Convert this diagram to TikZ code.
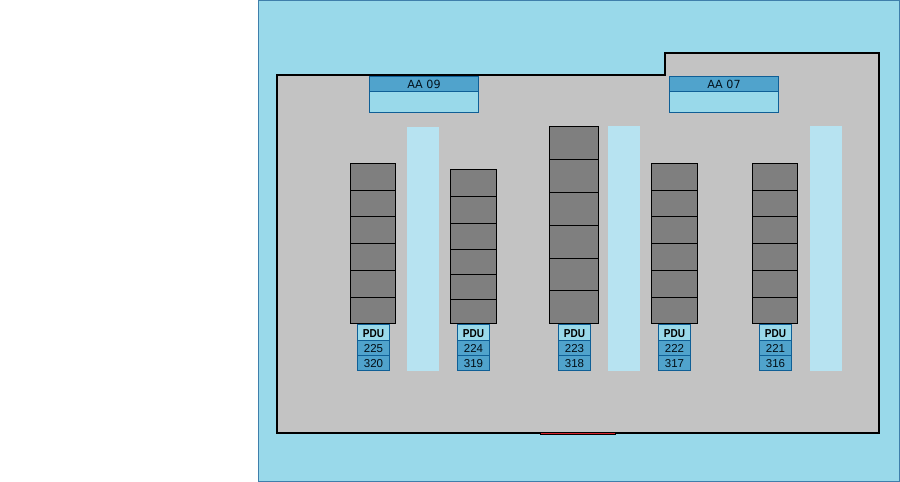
\documentclass[tikz,border=0pt]{standalone}
\usepackage{fontspec}
\setmainfont{Liberation Sans}
\newfontfamily\aafont{DejaVu Sans}
\newfontfamily\pdufont[FakeStretch=0.87]{Liberation Sans}
\definecolor{floorblue}{HTML}{99D9EA}
\definecolor{edgeblue}{HTML}{0F5F96}
\definecolor{headblue}{HTML}{50A3CC}
\definecolor{aisleblue}{HTML}{B7E3F1}
\definecolor{roomgrey}{HTML}{C3C3C3}
\definecolor{rackgrey}{HTML}{7F7F7F}
\definecolor{doorred}{HTML}{D8242A}
\tikzset{
  cell/.style={inner sep=0pt, outer sep=0pt, anchor=north west},
  rackcell/.style={cell, fill=rackgrey, draw=black, line width=1pt},
  pducell/.style={cell, draw=edgeblue, line width=1pt, text=black!85!edgeblue, text height=8.8pt, text depth=0pt,
    font=\fontsize{11.5}{11.5}\selectfont},
  aisle/.style={cell, fill=aisleblue},
}
\newcommand*{\RackCells}[4]{% #1 = name, #2 = left, #3 = width, #4 = list of index/top/height
  \foreach \i/\y/\h in {#4} {
    \node [rackcell, minimum width=#3pt, minimum height=\h pt]
      (#1-\i) at (#2,\y) {};
    }%
}
\newcommand*{\PduCells}[4]{% #1 = name, #2 = left, #3/#4 = labels
  \node [pducell, fill=floorblue, minimum width=32pt, minimum height=16pt, text height=9.5pt,
    font=\pdufont\bfseries\fontsize{11.5}{11.5}\selectfont, text=black]
    (#1-pdu) at (#2,324.5) {PDU};
  \node [pducell, fill=headblue, minimum width=32pt, minimum height=15pt]
    (#1-top) at (#2,340.5) {#3};
  \node [pducell, fill=headblue, minimum width=32pt, minimum height=15pt]
    (#1-bot) at (#2,355.5) {#4};
}
\newcommand*{\AaBox}[3]{% #1 = name, #2 = left, #3 = label
  \node [cell, draw=edgeblue, line width=1pt, fill=headblue, minimum width=109pt, minimum height=15pt,
    font=\aafont\fontsize{11.2}{11.2}\selectfont, text=black!80!edgeblue]
    (#1-head) at (#2,76.5) {#3};
  \node [cell, draw=edgeblue, line width=1pt, fill=floorblue, minimum width=109pt, minimum height=21pt]
    (#1-body) at (#2,91.5) {};
}

\begin{document}
\begin{tikzpicture}[x=1pt,y=-1pt]
    \useasboundingbox (0,0) rectangle (900,482);

    % outside and room
    \draw [fill=floorblue, draw=edgeblue!80!white, line width=1pt] (258.5,0.5) rectangle (899.5,481.5);
    \draw [fill=roomgrey, draw=black, line width=2pt]
      (277,75) -- (665,75) -- (665,53) -- (879,53) -- (879,433) -- (277,433) -- cycle;
    \draw [fill=doorred, draw=black, line width=.6pt] (540.6,432.6) rectangle (615.6,434.7);

    % aisles
    \foreach \name/\x/\y/\h in {aisleA/407/127/244, aisleB/608/126/245, aisleC/810/126/245} {
      \node [aisle, minimum width=32pt, minimum height=\h pt] (\name) at (\x,\y) {};
    }

    \AaBox{aaNine}{369.5}{AA 09}
    \AaBox{aaSeven}{669.5}{AA 07}

    % racks
    \RackCells{rackA}{350.5}{45}{1/163.5/26.5, 2/190/26, 3/216/27, 4/243/27, 5/270/27, 6/297/26.5}
    \RackCells{rackB}{450.5}{46}{1/169.5/27, 2/196.5/27, 3/223.5/26, 4/249.5/25, 5/274.5/25, 6/299.5/24}
    \RackCells{rackC}{549.5}{49}{1/126.5/33, 2/159.5/33, 3/192.5/33, 4/225.5/33, 5/258.5/32, 6/290.5/33}
    \RackCells{rackD}{651.5}{46}{1/163.5/26.5, 2/190/26, 3/216/27, 4/243/27, 5/270/27, 6/297/26.5}
    \RackCells{rackE}{752.5}{45}{1/163.5/26.5, 2/190/26, 3/216/27, 4/243/27, 5/270/27, 6/297/26.5}

    \PduCells{rackA}{357.5}{225}{320}
    \PduCells{rackB}{457.5}{224}{319}
    \PduCells{rackC}{558.5}{223}{318}
    \PduCells{rackD}{658.5}{222}{317}
    \PduCells{rackE}{759.5}{221}{316}
\end{tikzpicture}
\end{document}
